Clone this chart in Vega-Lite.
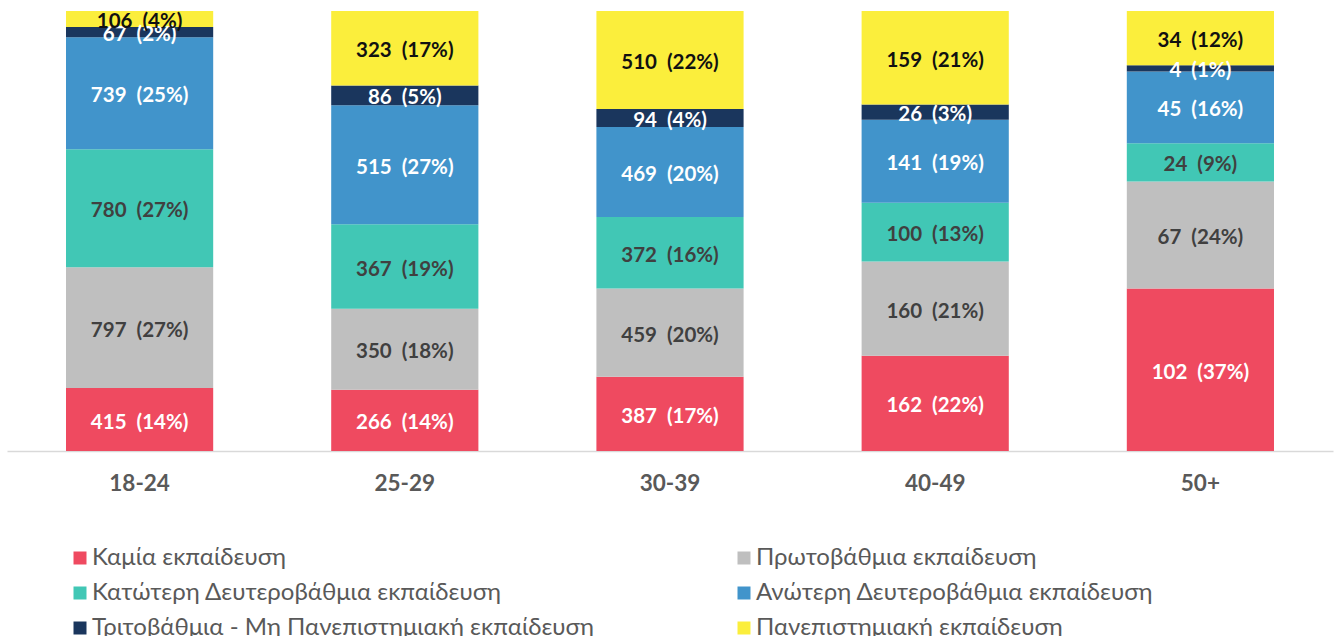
{
  "$schema": "https://vega.github.io/schema/vega-lite/v6.json",
  "width": 1326,
  "height": 440,
  "autosize": {"type": "none"},
  "padding": {"left": 7, "top": 11, "right": 6, "bottom": 185},
  "background": "white",
  "config": {"view": {"stroke": null}, "font": "Lato"},
  "data": {
    "values": [
      {"age": "18-24", "edu": "Καμία εκπαίδευση", "count": 415, "pct": 14},
      {"age": "18-24", "edu": "Πρωτοβάθμια εκπαίδευση", "count": 797, "pct": 27},
      {"age": "18-24", "edu": "Κατώτερη Δευτεροβάθμια εκπαίδευση", "count": 780, "pct": 27},
      {"age": "18-24", "edu": "Ανώτερη Δευτεροβάθμια εκπαίδευση", "count": 739, "pct": 25},
      {"age": "18-24", "edu": "Τριτοβάθμια - Μη Πανεπιστημιακή εκπαίδευση", "count": 67, "pct": 2},
      {"age": "18-24", "edu": "Πανεπιστημιακή εκπαίδευση", "count": 106, "pct": 4},
      {"age": "25-29", "edu": "Καμία εκπαίδευση", "count": 266, "pct": 14},
      {"age": "25-29", "edu": "Πρωτοβάθμια εκπαίδευση", "count": 350, "pct": 18},
      {"age": "25-29", "edu": "Κατώτερη Δευτεροβάθμια εκπαίδευση", "count": 367, "pct": 19},
      {"age": "25-29", "edu": "Ανώτερη Δευτεροβάθμια εκπαίδευση", "count": 515, "pct": 27},
      {"age": "25-29", "edu": "Τριτοβάθμια - Μη Πανεπιστημιακή εκπαίδευση", "count": 86, "pct": 5},
      {"age": "25-29", "edu": "Πανεπιστημιακή εκπαίδευση", "count": 323, "pct": 17},
      {"age": "30-39", "edu": "Καμία εκπαίδευση", "count": 387, "pct": 17},
      {"age": "30-39", "edu": "Πρωτοβάθμια εκπαίδευση", "count": 459, "pct": 20},
      {"age": "30-39", "edu": "Κατώτερη Δευτεροβάθμια εκπαίδευση", "count": 372, "pct": 16},
      {"age": "30-39", "edu": "Ανώτερη Δευτεροβάθμια εκπαίδευση", "count": 469, "pct": 20},
      {"age": "30-39", "edu": "Τριτοβάθμια - Μη Πανεπιστημιακή εκπαίδευση", "count": 94, "pct": 4},
      {"age": "30-39", "edu": "Πανεπιστημιακή εκπαίδευση", "count": 510, "pct": 22},
      {"age": "40-49", "edu": "Καμία εκπαίδευση", "count": 162, "pct": 22},
      {"age": "40-49", "edu": "Πρωτοβάθμια εκπαίδευση", "count": 160, "pct": 21},
      {"age": "40-49", "edu": "Κατώτερη Δευτεροβάθμια εκπαίδευση", "count": 100, "pct": 13},
      {"age": "40-49", "edu": "Ανώτερη Δευτεροβάθμια εκπαίδευση", "count": 141, "pct": 19},
      {"age": "40-49", "edu": "Τριτοβάθμια - Μη Πανεπιστημιακή εκπαίδευση", "count": 26, "pct": 3},
      {"age": "40-49", "edu": "Πανεπιστημιακή εκπαίδευση", "count": 159, "pct": 21},
      {"age": "50+", "edu": "Καμία εκπαίδευση", "count": 102, "pct": 37},
      {"age": "50+", "edu": "Πρωτοβάθμια εκπαίδευση", "count": 67, "pct": 24},
      {"age": "50+", "edu": "Κατώτερη Δευτεροβάθμια εκπαίδευση", "count": 24, "pct": 9},
      {"age": "50+", "edu": "Ανώτερη Δευτεροβάθμια εκπαίδευση", "count": 45, "pct": 16},
      {"age": "50+", "edu": "Τριτοβάθμια - Μη Πανεπιστημιακή εκπαίδευση", "count": 4, "pct": 1},
      {"age": "50+", "edu": "Πανεπιστημιακή εκπαίδευση", "count": 34, "pct": 12}
    ]
  },
  "transform": [
    {"calculate": "indexof(['Καμία εκπαίδευση','Πρωτοβάθμια εκπαίδευση','Κατώτερη Δευτεροβάθμια εκπαίδευση','Ανώτερη Δευτεροβάθμια εκπαίδευση','Τριτοβάθμια - Μη Πανεπιστημιακή εκπαίδευση','Πανεπιστημιακή εκπαίδευση'], datum.edu)", "as": "ord"},
    {"stack": "count", "groupby": ["age"], "sort": [{"field": "ord", "order": "ascending"}], "offset": "normalize", "as": ["y0", "y1"]},
    {"calculate": "(datum.y0 + datum.y1) / 2", "as": "ymid"},
    {"calculate": "datum.count + '\u00a0 (' + datum.pct + '%)'", "as": "label"}
  ],
  "encoding": {
    "x": {
      "field": "age",
      "type": "nominal",
      "sort": ["18-24", "25-29", "30-39", "40-49", "50+"],
      "scale": {"paddingInner": 0.445, "paddingOuter": 0.2225},
      "axis": {
        "title": null,
        "labelAngle": 0,
        "ticks": false,
        "domainColor": "#D9D9D9",
        "domainWidth": 1.5,
        "labelFont": "Lato",
        "labelFontWeight": "bold",
        "labelFontSize": 22.5,
        "labelColor": "#595959",
        "labelPadding": 21
      }
    }
  },
  "layer": [
    {
      "mark": {"type": "bar"},
      "encoding": {
        "y": {"field": "y0", "type": "quantitative", "scale": {"domain": [0, 1]}, "axis": null},
        "y2": {"field": "y1"},
        "color": {
          "field": "edu",
          "type": "nominal",
          "scale": {
            "domain": ["Καμία εκπαίδευση", "Πρωτοβάθμια εκπαίδευση", "Κατώτερη Δευτεροβάθμια εκπαίδευση", "Ανώτερη Δευτεροβάθμια εκπαίδευση", "Τριτοβάθμια - Μη Πανεπιστημιακή εκπαίδευση", "Πανεπιστημιακή εκπαίδευση"],
            "range": ["#EF4A60", "#BFBFBF", "#41C7B5", "#4194CB", "#1A365D", "#FBEE3C"]
          },
          "legend": {
            "title": null,
            "orient": "none",
            "legendX": 61,
            "legendY": 535,
            "direction": "horizontal",
            "columns": 2,
            "columnPadding": 138,
            "rowPadding": 11,
            "padding": 0,
            "symbolType": "square",
            "symbolSize": 169,
            "symbolStrokeWidth": 0,
            "labelFont": "Lato",
            "labelFontSize": 24,
            "labelColor": "#595959",
            "labelOffset": 0,
            "labelLimit": 800
          }
        }
      }
    },
    {
      "mark": {"type": "text", "font": "Lato", "fontWeight": "bold", "fontSize": 20.5, "baseline": "middle", "align": "center", "dy": 3},
      "encoding": {
        "y": {"field": "ymid", "type": "quantitative"},
        "text": {"field": "label", "type": "nominal"},
        "color": {
          "condition": [
            {"test": "datum.edu === 'Πανεπιστημιακή εκπαίδευση'", "value": "#111111"},
            {"test": "datum.edu === 'Πρωτοβάθμια εκπαίδευση' || datum.edu === 'Κατώτερη Δευτεροβάθμια εκπαίδευση'", "value": "#404040"}
          ],
          "value": "#FFFFFF"
        }
      }
    }
  ]
}
